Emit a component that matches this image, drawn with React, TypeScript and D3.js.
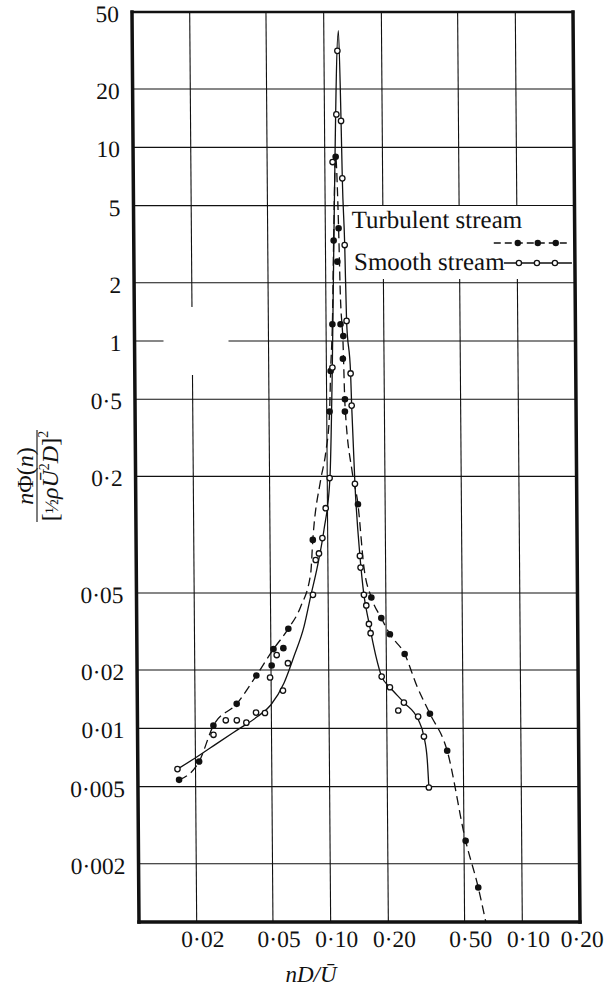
import React from "react";
import * as d3 from "d3";

// ---- tick values / labels (as printed in the original figure) ----
const xTickValues = [0.02, 0.05, 0.1, 0.2, 0.5, 1, 2];
const xTickLabels = ["0·02", "0·05", "0·10", "0·20", "0·50", "0·10", "0·20"];
const yTickValues = [50, 20, 10, 5, 2, 1, 0.5, 0.2, 0.05, 0.02, 0.01, 0.005, 0.002];
const yTickLabels = ["50", "20", "10", "5", "2", "1", "0·5", "0·2", "0·05", "0·02", "0·01", "0·005", "0·002"];

// ---- Turbulent stream: measured points (filled) ----
const turbulentX = [0.0164, 0.0209, 0.0249, 0.033, 0.0419, 0.0504, 0.0516, 0.0581, 0.0618, 0.0836, 0.1035, 0.1052, 0.1079, 0.1104, 0.114, 0.1173, 0.1152, 0.119, 0.1229, 0.122, 0.1246, 0.1244, 0.1443, 0.168, 0.189, 0.2093, 0.2494, 0.336, 0.412, 0.51, 0.591];
const turbulentY = [0.00542, 0.00674, 0.01034, 0.01338, 0.01874, 0.0211, 0.02565, 0.02594, 0.0327, 0.094, 0.432, 0.70, 1.22, 3.30, 8.95, 3.82, 2.57, 1.22, 1.06, 0.81, 0.50, 0.432, 0.1436, 0.0474, 0.0371, 0.0306, 0.0242, 0.0119, 0.00766, 0.002625, 0.001506];

// ---- Smooth stream: measured points (open) ----
const smoothX = [0.0161, 0.0249, 0.0289, 0.033, 0.037, 0.0416, 0.0463, 0.0494, 0.0536, 0.0576, 0.0613, 0.0833, 0.0864, 0.0899, 0.0938, 0.0979, 0.1029, 0.1075, 0.1098, 0.1154, 0.1175, 0.122, 0.1232, 0.126, 0.128, 0.1337, 0.135, 0.1394, 0.147, 0.148, 0.1537, 0.158, 0.1628, 0.166, 0.1888, 0.2083, 0.2298, 0.246, 0.2915, 0.312, 0.3295];
const smoothY = [0.00616, 0.00926, 0.011, 0.011, 0.0107, 0.01206, 0.012, 0.0183, 0.0239, 0.01566, 0.0217, 0.0489, 0.074, 0.08, 0.096, 0.137, 0.196, 0.73, 8.4, 14.8, 31.5, 13.7, 6.92, 3.13, 1.27, 0.68, 0.464, 0.183, 0.0777, 0.0676, 0.0489, 0.0431, 0.0346, 0.031, 0.0185, 0.0163, 0.01236, 0.01358, 0.0115, 0.00907, 0.00495];

// ---- faired curves drawn through the data ----
const turbulentCurveX = [0.0164, 0.0209, 0.0249, 0.033, 0.0419, 0.0516, 0.0618, 0.0718, 0.0813, 0.0836, 0.0924, 0.0983, 0.1035, 0.1052, 0.1079, 0.1104, 0.114, 0.1173, 0.1189, 0.1225, 0.1246, 0.1353, 0.1443, 0.154, 0.168, 0.189, 0.2093, 0.2494, 0.289, 0.336, 0.412, 0.51, 0.591, 0.645];
const turbulentCurveY = [0.00542, 0.00674, 0.01034, 0.01338, 0.01874, 0.02565, 0.0327, 0.0425, 0.0635, 0.094, 0.192, 0.263, 0.432, 0.70, 1.22, 3.3, 8.95, 3.82, 1.835, 0.955, 0.468, 0.208, 0.1436, 0.0684, 0.0474, 0.0371, 0.0306, 0.0242, 0.0164, 0.0119, 0.00766, 0.002625, 0.001506, 0.001];
const smoothCurveX = [0.0161, 0.0205, 0.0261, 0.0332, 0.0423, 0.0497, 0.0583, 0.0659, 0.0746, 0.081, 0.0881, 0.0957, 0.1033, 0.1073, 0.1107, 0.1192, 0.122, 0.1232, 0.126, 0.128, 0.1337, 0.135, 0.1394, 0.147, 0.1537, 0.163, 0.176, 0.1888, 0.2083, 0.246, 0.292, 0.312, 0.324, 0.3295];
const smoothCurveY = [0.00616, 0.00715, 0.00839, 0.00982, 0.0115, 0.0132, 0.0171, 0.0235, 0.0335, 0.0479, 0.0684, 0.106, 0.196, 0.71, 3.33, 40, 13.7, 6.92, 3.2, 1.27, 0.68, 0.464, 0.183, 0.078, 0.0489, 0.035, 0.0239, 0.0185, 0.0163, 0.0136, 0.01106, 0.00907, 0.00688, 0.00495];

const legendLabels = ["Turbulent stream", "Smooth stream"];

const FONT = '"Liberation Serif", "Times New Roman", Times, serif';
const INK = "#111";

type P = [number, number];
const zip = (xs: number[], ys: number[]): P[] => xs.map((v, i) => [v, ys[i]] as P);

export default function App() {
  const width = 607;
  const height = 990;
  const left = 132, right = 573, top = 12, bottom = 922;
  const x = d3.scaleLog().domain([0.01, 2]).range([left, right]);
  const y = d3.scaleLog().domain([0.001, 50]).range([bottom, top]);
  // slight slant of the scanned page
  const skew = 7 / 910;

  const line = d3
    .line<P>()
    .x((d) => x(d[0]))
    .y((d) => y(d[1]))
    .curve(d3.curveMonotoneX);

  const turbPath = line(zip(turbulentCurveX, turbulentCurveY)) || "";
  const smoothPath = line(zip(smoothCurveX, smoothCurveY)) || "";

  return (
    <svg
      width={width}
      height={height}
      viewBox={`0 0 ${width} ${height}`}
      style={{ position: "absolute", left: 0, top: 0, background: "#fff" }}
      fontFamily={FONT}
    >
      <rect x={0} y={0} width={width} height={height} fill="#fff" />
      <defs>
        <clipPath id="plotClip">
          <rect x={left} y={top} width={right - left} height={bottom - top} />
        </clipPath>
      </defs>
      <g transform={`matrix(1,0,${skew},1,${-skew * top},0)`}>
        {/* grid */}
        <g stroke={INK} strokeWidth={1.1}>
          {xTickValues
            .filter((v) => v < 2)
            .map((v) => (
              <line key={"gx" + v} x1={x(v)} x2={x(v)} y1={top} y2={bottom} />
            ))}
          {yTickValues
            .filter((v) => v < 50)
            .map((v) => (
              <line key={"gy" + v} x1={left} x2={right} y1={y(v)} y2={y(v)} />
            ))}
        </g>
        {/* blank patch in the original grid */}
        <rect x={161} y={307} width={65} height={68} fill="#fff" />
        {/* legend box */}
        <rect x={347} y={206} width={right - 347 - 2} height={73} fill="#fff" />

        {/* frame */}
        <g stroke={INK} strokeLinecap="square">
          <line x1={left} x2={right} y1={top} y2={top} strokeWidth={2.6} />
          <line x1={left} x2={right} y1={bottom} y2={bottom} strokeWidth={3.5} />
          <line x1={left} x2={left} y1={top} y2={bottom} strokeWidth={3.5} />
          <line x1={right} x2={right} y1={top} y2={bottom} strokeWidth={3.5} />
        </g>

        {/* curves */}
        <g clipPath="url(#plotClip)" fill="none" stroke={INK}>
          <path d={smoothPath} strokeWidth={1.3} />
          <path d={turbPath} strokeWidth={1.3} strokeDasharray="9,5" />
        </g>

        {/* points */}
        <g>
          {turbulentX.map((v, i) => (
            <circle key={"t" + i} cx={x(v)} cy={y(turbulentY[i])} r={3.3} fill={INK} />
          ))}
          {smoothX.map((v, i) => (
            <circle
              key={"s" + i}
              cx={x(v)}
              cy={y(smoothY[i])}
              r={2.7}
              fill="#fff"
              stroke={INK}
              strokeWidth={1.3}
            />
          ))}
        </g>

        {/* legend */}
        <g fill={INK} fontSize={25}>
          <text x={350} y={228}>{legendLabels[0]}</text>
          <line x1={492} x2={568} y1={243} y2={243} stroke={INK} strokeWidth={1.3} strokeDasharray="7,4" />
          {[516, 536, 554].map((cx) => (
            <circle key={"lt" + cx} cx={cx} cy={243} r={3.2} fill={INK} />
          ))}
          <text x={352} y={270}>{legendLabels[1]}</text>
          <line x1={502} x2={570} y1={263} y2={263} stroke={INK} strokeWidth={1.3} />
          {[517, 535, 553].map((cx) => (
            <circle key={"ls" + cx} cx={cx} cy={263} r={2.6} fill="#fff" stroke={INK} strokeWidth={1.3} />
          ))}
        </g>

        {/* y tick labels */}
        <g fill={INK} fontSize={23.5} textAnchor="end">
          {yTickValues.map((v, i) => (
            <text key={"yl" + v} x={119} y={y(v) + 10}>
              {yTickLabels[i]}
            </text>
          ))}
        </g>
        {/* x tick labels */}
        <g fill={INK} fontSize={23.5} textAnchor="middle">
          {xTickValues.map((v, i) => (
            <text key={"xl" + i} x={x(v) + (i === xTickValues.length - 1 ? 2 : 6)} y={947}>
              {xTickLabels[i]}
            </text>
          ))}
        </g>
      </g>

      {/* x axis title */}
      <text x={311} y={982} fontSize={23} textAnchor="middle" fill={INK} fontStyle="italic">
        nD/Ū
      </text>

      {/* y axis title (rotated fraction) */}
      <g transform="translate(37,476) rotate(-90)" fill={INK} fontSize={24}>
        <text x={0} y={-4} textAnchor="middle">
          <tspan fontStyle="italic">n</tspan>
          <tspan>Φ(</tspan>
          <tspan fontStyle="italic">n</tspan>
          <tspan>)</tspan>
        </text>
        <line x1={-46} x2={46} y1={0} y2={0} stroke={INK} strokeWidth={1.1} />
        <text x={0} y={21} textAnchor="middle">
          <tspan>[</tspan>
          <tspan fontSize={19}>½</tspan>
          <tspan fontStyle="italic">ρŪ</tspan>
          <tspan fontSize={14} dy={-9}>2</tspan>
          <tspan fontStyle="italic" dy={9}>D</tspan>
          <tspan>]</tspan>
          <tspan fontSize={14} dy={-10}>2</tspan>
        </text>
      </g>
    </svg>
  );
}
